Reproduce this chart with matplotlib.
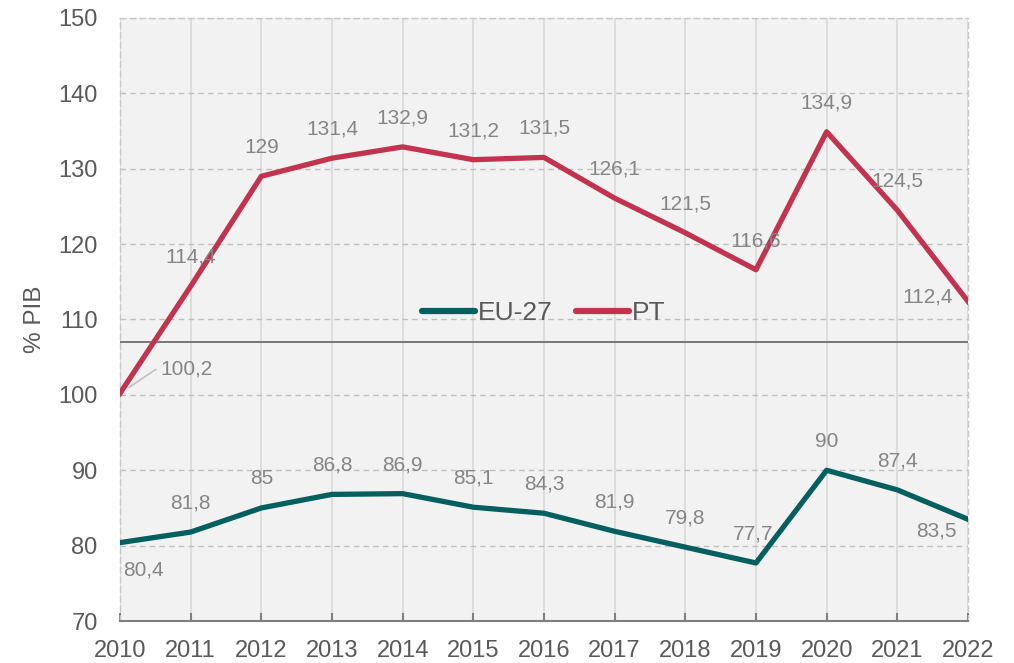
import matplotlib
matplotlib.use("Agg")
import matplotlib.pyplot as plt

plt.rcParams["font.family"] = ["Liberation Sans", "DejaVu Sans"]

YEARS = [2010, 2011, 2012, 2013, 2014, 2015, 2016, 2017, 2018, 2019, 2020, 2021, 2022]
EU27 = [80.4, 81.8, 85, 86.8, 86.9, 85.1, 84.3, 81.9, 79.8, 77.7, 90, 87.4, 83.5]
PT = [100.2, 114.4, 129, 131.4, 132.9, 131.2, 131.5, 126.1, 121.5, 116.6, 134.9, 124.5, 112.4]
REF_LINE = 107

EU_COLOR = "#045f5f"
PT_COLOR = "#c1334f"
LABEL_COLOR = "#858585"
TEXT_COLOR = "#595959"


def fmt(v):
    return f"{v:g}".replace(".", ",")


fig = plt.figure(figsize=(10.14, 6.63), dpi=100)
ax = fig.add_axes([0.1183, 0.0633, 0.8363, 0.9096])
ax.set_facecolor("#f2f2f2")

ax.plot(YEARS, EU27, color=EU_COLOR, linewidth=3.8, label="EU-27", zorder=3)
ax.plot(YEARS, PT, color=PT_COLOR, linewidth=3.8, label="PT", zorder=3)
ax.axhline(REF_LINE, color="#6e6e6e", linewidth=1.3, zorder=2)

# data label offsets, in pixels
pt_off = [(67, 24)] + [(0, 29)] * 11 + [(-40, 4)]
eu_off = [(23, -27)] + [(0, 29)] * 11 + [(-32, -12)]
eu_off[9] = (-3, 29)
for x, v, o in zip(YEARS, PT, pt_off):
    ax.annotate(fmt(v), (x, v), xytext=o, textcoords="offset pixels",
                ha="center", va="center", fontsize=15, color=LABEL_COLOR, zorder=4)
for x, v, o in zip(YEARS, EU27, eu_off):
    ax.annotate(fmt(v), (x, v), xytext=o, textcoords="offset pixels",
                ha="center", va="center", fontsize=15, color=LABEL_COLOR, zorder=4)
# leader line for the first PT label
ax.annotate("", (YEARS[0], PT[0]), xytext=(36, 24), textcoords="offset pixels",
            arrowprops=dict(arrowstyle="-", color="#bfbfbf", lw=1.2,
                            shrinkA=0, shrinkB=8))

ax.set_xlim(2010, 2022)
ax.set_ylim(70, 150)
ax.set_xticks(YEARS)
ax.set_yticks(range(70, 151, 10))
ax.grid(axis="x", color="#d9d9d9", linewidth=1.2, linestyle="-")
ax.grid(axis="y", color="#bfbfbf", linewidth=1.0, linestyle=(0, (4, 3)))
ax.set_axisbelow(True)

for side in ["top", "left", "right"]:
    ax.spines[side].set_color("#c8c8c8")
    ax.spines[side].set_linestyle((0, (4, 3)))
    ax.spines[side].set_linewidth(1.0)
ax.spines["bottom"].set_color("#7f7f7f")
ax.spines["bottom"].set_linewidth(1.5)

ax.tick_params(axis="x", direction="in", length=6, width=1.5, color="#7f7f7f",
               labelsize=17, labelcolor=TEXT_COLOR, pad=14)
ax.tick_params(axis="y", length=0, labelsize=17, labelcolor=TEXT_COLOR, pad=16)
ax.set_ylabel("% PIB", fontsize=17.5, color=TEXT_COLOR, labelpad=9)

leg = ax.legend(loc="center", bbox_to_anchor=(0.5, 0.51), ncol=2, frameon=False,
                fontsize=19, handlelength=2.0, handletextpad=0.1, columnspacing=0.9,
                labelcolor=TEXT_COLOR)
for line in leg.get_lines():
    line.set_solid_capstyle("round")
    line.set_linewidth(4.5)

fig.savefig("out.png", dpi=100)
